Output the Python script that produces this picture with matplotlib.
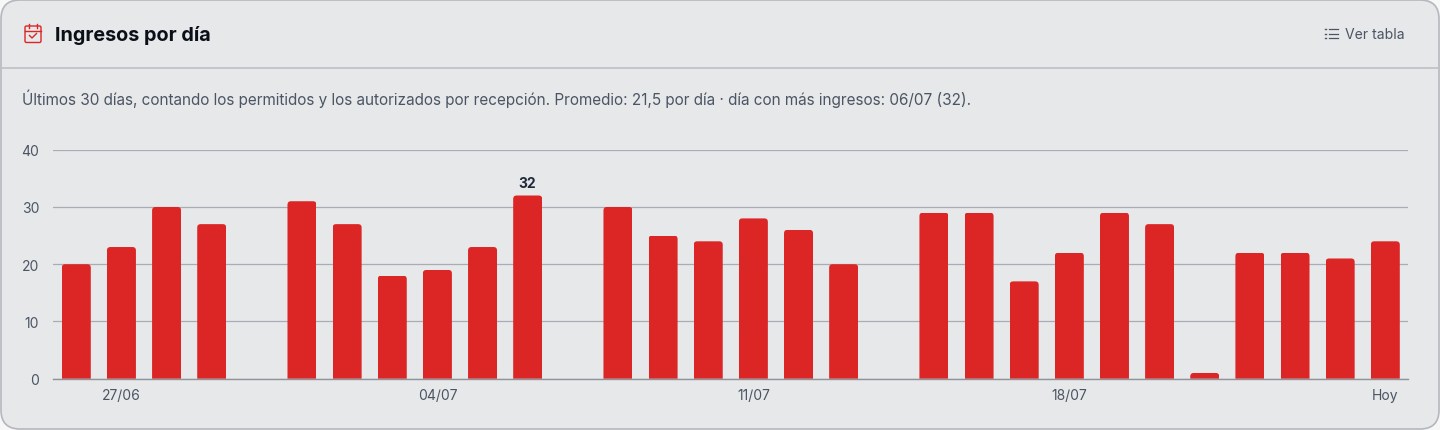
import matplotlib
matplotlib.use("Agg")
import matplotlib.pyplot as plt
from matplotlib.patches import FancyBboxPatch
from matplotlib.path import Path
from matplotlib.lines import Line2D

plt.rcParams["font.family"] = ["Inter", "DejaVu Sans"]

# -----------------------------
# DATA
# -----------------------------

values = [20, 23, 30, 27, 0, 31, 27, 18, 19, 23, 32, 0, 30, 25, 24, 28, 26, 20,
          0, 29, 29, 17, 22, 29, 27, 1, 22, 22, 21, 24]
y_ticks = [0, 10, 20, 30, 40]
x_tick_idx = [1, 8, 15, 22, 29]
x_tick_labels = ["27/06", "04/07", "11/07", "18/07", "Hoy"]
peak_idx = 10

title = "Ingresos por día"
subtitle = ("Últimos 30 días, contando los permitidos y los autorizados por recepción. "
            "Promedio: 21,5 por día · día con más ingresos: 06/07 (32).")

W, H = 1440, 431
card = "#e7e8ea"
red = "#dc2626"
grid = "#a9adb3"
text = "#4b5563"

fig = plt.figure(figsize=(W / 100, H / 100), dpi=100, facecolor="#f7f7f8")

# -----------------------------
# CARD (pixel coordinates)
# -----------------------------

bg = fig.add_axes([0, 0, 1, 1])
bg.set_xlim(0, W)
bg.set_ylim(H, 0)
bg.axis("off")

bg.add_patch(FancyBboxPatch((1, 1), W - 2, H - 2, boxstyle="round,pad=0,rounding_size=19",
                            fc=card, ec="#b4b7bc", lw=1.2))
bg.add_line(Line2D([1, W - 1], [68.5, 68.5], color="#bdc0c5", lw=1.2))

bg.text(55, 35.5, title, fontsize=14.25, fontweight="bold", color="#0b0f17", va="center", ha="left")
bg.text(22, 98.8, subtitle, fontsize=11.03, color=text, va="center", ha="left")
bg.text(1345, 35, "Ver tabla", fontsize=10.1, color=text, va="center", ha="left")

# calendar icon
bg.add_patch(FancyBboxPatch((25, 27), 16, 16.5, boxstyle="round,pad=0,rounding_size=1.5",
                            fc="none", ec=red, lw=1.0))
bg.add_line(Line2D([25, 41], [31.5, 31.5], color=red, lw=1.0))
bg.add_line(Line2D([29, 29], [24.5, 28.5], color=red, lw=1.0))
bg.add_line(Line2D([37, 37], [24.5, 28.5], color=red, lw=1.0))
bg.add_line(Line2D([29.5, 32, 36.5], [36.5, 39, 34.5], color=red, lw=1.0))

# list icon
for yy in [29.5, 34.5, 39]:
    bg.add_line(Line2D([1324.5, 1325.5], [yy, yy], color=text, lw=1.0))
    bg.add_line(Line2D([1328.5, 1337.5], [yy, yy], color=text, lw=0.9))

# -----------------------------
# CHART
# -----------------------------

ax_left, ax_right, ax_top, ax_bottom = 53, 1408, 150.7, 379.7
ax = fig.add_axes([ax_left / W, 1 - ax_bottom / H, (ax_right - ax_left) / W, (ax_bottom - ax_top) / H])
ax.patch.set_alpha(0)

pitch = (1385.3 - 76.3) / 29
ax.set_xlim(-(76.3 - ax_left) / pitch, 29 + (ax_right - 1385.3) / pitch)
ax.set_ylim(0, 40)

ax.set_axisbelow(True)
ax.yaxis.grid(True, color=grid, lw=0.9)
ax.xaxis.grid(False)

bars = ax.bar(range(len(values)), values, width=29 / pitch, color=red, lw=0, zorder=3)

# rounded top corners
rx = 3.5 / pitch
ry = 3.5 / (229 / 40)
for bar, v in zip(bars, values):
    if v == 0:
        continue
    x0, x1 = bar.get_x(), bar.get_x() + bar.get_width()
    verts = [(x0, 0), (x0, v - ry), (x0, v), (x0 + rx, v), (x1 - rx, v), (x1, v), (x1, v - ry), (x1, 0), (x0, 0)]
    codes = [Path.MOVETO, Path.LINETO, Path.CURVE3, Path.CURVE3, Path.LINETO, Path.CURVE3, Path.CURVE3,
             Path.LINETO, Path.CLOSEPOLY]
    bar.set_clip_path(Path(verts, codes), ax.transData)

ax.text(peak_idx, values[peak_idx] + 0.9, str(values[peak_idx]), fontsize=10, fontweight="bold",
        color="#1f2937", ha="center", va="bottom")

for s in ["top", "left", "right"]:
    ax.spines[s].set_visible(False)
ax.spines["bottom"].set_color("#8f939a")
ax.spines["bottom"].set_linewidth(1.0)
ax.spines["bottom"].set_zorder(4)

ax.set_yticks(y_ticks)
ax.set_xticks(x_tick_idx)
ax.set_xticklabels(x_tick_labels)
ax.tick_params(axis="both", length=0, labelsize=10, labelcolor=text)
ax.tick_params(axis="y", pad=10)
ax.tick_params(axis="x", pad=7)

fig.savefig("out.png", dpi=100, facecolor=fig.get_facecolor())
